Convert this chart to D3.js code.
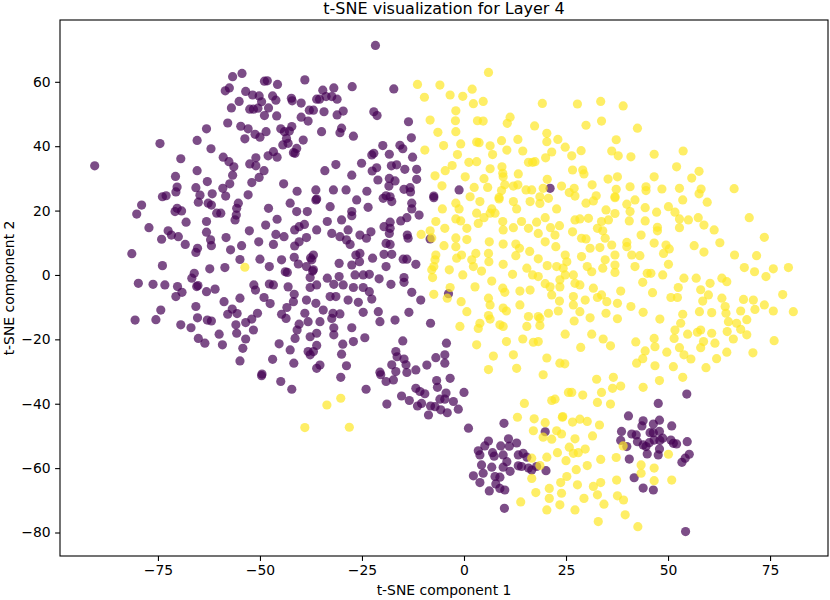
<!DOCTYPE html>
<html>
<head>
<meta charset="utf-8">
<script src="https://cdn.jsdelivr.net/npm/d3@7"></script>
<style>
  body { margin: 0; background: #fff; }
  text { font-family: "DejaVu Sans", sans-serif; fill: #000; }
</style>
</head>
<body>
<div id="chart"></div>
<script>
// ---- data: t-SNE coordinates, one list per class ----
var classNames = ["class 0", "class 1"];

var class0Points = [
  [-90.5,33.9],[-74.5,40.8],[-69.4,36.1],[-70.7,30.6],[-70.3,27.3],[-70.6,25.8],[-73.9,24.3],[-73,24.6],
  [-65.4,32.4],[-65.4,41.8],[-63.1,45.4],[-62,39.2],[-62.9,29],[-65.7,27.1],[-64.7,24.8],[-61.7,25.2],
  [-59,36.6],[-57.6,35.2],[-56.4,33.6],[-56.7,31],[-57.4,28.3],[-59.1,26.9],[-58.4,24.5],[-57.9,47.2],
  [-57,51.9],[-58.5,57.2],[-57.5,58.1],[-56.7,61.6],[-54.4,62.6],[-55.1,53.9],[-53.5,57],[-51.8,55.9],
  [-50.2,55.6],[-49.6,53.8],[-48.9,60.2],[-48.2,60.3],[-45.7,59.2],[-46.9,55.6],[-46.1,54.3],[-52.5,51.5],
  [-51.6,51.5],[-50.5,51.8],[-47.9,51.9],[-48.9,49.5],[-45.9,49.4],[-54.7,46.2],[-52.9,45.4],[-53.7,42.3],
  [-51.2,43.7],[-50,42.8],[-48.5,44.5],[-44.9,45.4],[-44,44.5],[-42.8,44.7],[-42.2,46.1],[-43.5,42.4],
  [-44.4,40.4],[-43.1,40.9],[-39.4,41.9],[-41,39.3],[-41.8,38],[-41.4,37.8],[-46.7,38.3],[-48,37],
  [-45.8,36.6],[-51,36.4],[-52.5,34.5],[-51,33.9],[-49,32.4],[-50.2,30.3],[-52,28.7],[-52.9,24.9],
  [-44.2,28.3],[-40.9,26],[-42.3,54.9],[-42.1,54.1],[-39.9,53.4],[-39,60.6],[-39.9,49],[-38.2,47.8],
  [-37.9,51.2],[-36.9,51.2],[-36.1,54.6],[-35.4,54.6],[-36.3,26.4],
  [-27.4,58.5],[-17.2,57.8],[-34.6,57.4],[-31.9,58.1],[-33.8,55.4],[-32.4,55.4],[-31.1,54.6],[-34.3,50.7],
  [-31.1,49.7],[-29.6,50.9],[-22.1,50.7],[-21.3,49.5],[-13.6,47.6],[-34.9,44.5],[-30.4,44.2],[-30,45.6],
  [-27.1,43.1],[-12.9,42.6],[-19.9,40.2],[-15.7,40.3],[-15,39.2],[-22.6,37.3],[-22.1,37.8],[-18.3,37.5],
  [-12.6,36.6],[-31.4,34.3],[-25.1,34.7],[-21.4,33.3],[-22.5,32.3],[-17.8,33.9],[-16.5,34.2],[-14.5,32.8],
  [-11.6,32.8],[-34.1,32.4],[-27.5,31],[-21.1,29.5],[-18.3,30],[-16.9,29.2],[-11.6,29.7],[-18.4,27.6],
  [-14.7,26.6],[-13.2,27.1],[-13.1,25.8],[-32,26.4],[-28.9,26.4],[-23.8,26],[-19.1,24.6],[-18.1,24.3],
  [-1.2,26.4],[-7.4,24.5],[-21.7,71.3],[21.1,26.9],
  [-79,21.7],[-80.2,18.9],[-77.2,14.7],[-74.1,11.1],[-72.5,13.7],[-71.7,12.4],[-70,11.9],[-68.3,9.5],
  [-81.4,6.6],[-73.9,2.9],[-79.8,-2.6],[-76.2,-2.9],[-73.3,-3.1],[-70.2,-3.6],[-69.1,-5.4],[-70.6,-6.7],
  [-80.6,-14],[-75.5,-13.9],[-74.3,-10.9],[-70.8,19.7],[-70.3,20.7],[-69.2,19.9],[-68.1,16.4],[-65.1,22.6],
  [-63.1,16.6],[-62.7,22.3],[-61.9,21.7],[-60.6,19.2],[-59.6,19.2],[-63.1,13.3],[-62.1,10.9],[-61.9,9.1],
  [-65.3,8.3],[-65.7,7],[-58.3,11.6],[-57.2,7.8],[-54.5,9.1],[-54.9,4.8],[-50,4.9],[-47.7,2.6],
  [-44.7,4.7],[-43.8,1],[-43.3,0.8],[-41.6,5.5],[-40.6,3.4],[-38.6,2.6],[-37.6,5.3],[-37.7,-0.8],
  [-37.1,1.2],[-37.7,-3.9],[-58.6,2.3],[-62.3,1.9],[-66.1,0.5],[-66.7,-1],[-65.5,-3.6],[-65.2,-3.3],
  [-63.1,-5.2],[-61,-4.4],[-58.8,-8.3],[-54.9,-7.2],[-51.5,-3.1],[-51.1,-4.7],[-47.7,-2.8],[-46.7,-3.1],
  [-49,-7],[-47.5,-8.9],[-43.1,-3.7],[-41.6,-6],[-41.8,-8.3],[-38.6,-7.8],[-43.4,-10.1],[-44.7,-12.2],
  [-43.6,-13.5],[-39,-11.9],[-40.4,-15.3],[-40.9,-17.1],[-41.4,-19.7],[-38.2,-14.5],[-37.7,-19.2],[-45.3,-21.4],
  [-42.6,-23.3],[-46.9,-26.2],[-41.7,-27.4],[-38.2,-23.8],[-37.7,-24.8],[-49.5,-30.8],[-54.9,-26.7],[-54.2,-22.8],
  [-53.5,-19.9],[-51.6,-17.1],[-52,-13.7],[-53.5,-14.8],[-50.6,-11.9],[-55.9,-15.5],[-55.7,-18.1],[-57.9,-12.2],
  [-56.8,-10.6],[-55.6,-12],[-60,-18.4],[-59.2,-21.7],[-65.7,-9.8],[-65.3,-13.3],[-62.9,-14],[-61.9,-14.3],
  [-69.4,-15.5],[-66.9,-16.4],[-65.1,-19.7],[-63.5,-21.2],[-55.3,22.3],[-55.7,20.7],[-56.1,17.1],[-55.8,18.6],
  [-52.6,13.7],[-50.3,10.3],[-48.6,15.5],[-45.8,17.3],[-47.9,20.7],[-46.1,12.6],[-46.7,9.5],[-44.1,11.9],
  [-42.6,22.3],[-41,19.7],[-38.4,19.7],[-41.5,14],[-40.4,15],[-39.1,15.7],[-40.4,10.3],[-41.5,9],
  [-38.6,11.6],[-36.1,23.6],
  [-36.3,23.3],[-32.8,21.2],[-26.3,23.3],[-23.5,21],[-27.5,19.7],[-27.5,18.4],[-19.8,23.8],[-17.7,22.8],
  [-12.8,22.3],[-12.8,20.5],[-7.4,24],[-33.5,16.6],[-30,17.1],[-36.1,14],[-32.4,12.9],[-30.4,11.9],
  [-28.4,14],[-28.8,10.9],[-27.9,9.5],[-25.5,12.4],[-23.9,11.4],[-22.8,13.4],[-19.6,15],[-18.1,16.4],
  [-18.1,14.5],[-18.3,12.9],[-15.5,16.8],[-14,17.8],[-11,18.6],[-13.9,12.4],[-13.7,11.4],[-19.1,9.8],
  [-18.1,9.5],[-8.3,11.2],[-26.5,6.2],[-25.5,6.7],[-25.6,4.1],[-36.9,6.2],[-37.3,4.7],[-30.6,3.6],
  [-27.5,3.1],[-26.7,0],[-24.7,0],[-22.4,5.2],[-19.6,6.4],[-17.7,6.4],[-14.9,4.9],[-14,4.9],
  [-11.8,3.3],[-19.1,2.6],[-23.2,0.2],[-20.8,-1.2],[-14.7,-0.8],[-14.7,-2.3],[-17.9,-2.9],[-36.9,1.6],
  [-36.1,-3.1],[-33.5,-1],[-30.6,-0.5],[-31.9,-2.9],[-29.6,-3.1],[-27.1,-3.9],[-24.7,-3.9],[-23.2,-5.2],
  [-22.6,-7.5],[-32.8,-6.7],[-31.4,-6.7],[-28.4,-7.8],[-25.9,-8.5],[-36.3,-8.8],[-12.8,-5.4],[-10.6,-7.8],
  [-3.8,-5.8],[-34.5,-10.9],[-32.1,-11.9],[-30.4,-12.1],[-32.4,-13.5],[-24.7,-11.6],[-21,-11.4],[-20.6,-14.5],
  [-16.9,-14],[-13.5,-11.6],[-35.3,-14.5],[-36.1,-18.1],[-31.9,-16.4],[-31.9,-18.6],[-27.5,-16.4],[-27.1,-20.7],
  [-24.3,-19.5],[-29.7,-21.5],[-36.1,-21.9],[-36.9,-23.8],[-30,-24.6],[-35.3,-28],[-36.1,-29],[-28.8,-28.2],
  [-8.2,-15],[-15,-20.5],[-4.3,-21.2],[-16.7,-23.8],[-16.4,-25.4],[-14.7,-26.1],[-17.7,-27.9],[-14.2,-27.9],
  [-6.9,-25.7],[-4.7,-24.8],[-4.7,-27.4],[-9.1,-28],[-11.8,-29.5],[-20.6,-30.2],[-16.7,-30],
  [-49.6,-31.3],[-44.9,-33.1],[-42.2,-35.5],[-30.2,-31.8],[-24,-35.5],[-20.4,-31],[-19.1,-33.1],[-17.3,-32.6],
  [-14,-30.3],[-18.9,-40.1],[-15.3,-37.6],[-13.4,-39],[-11.8,-35.2],[-10.8,-36.2],[-9.6,-36.9],[-11.4,-40.7],
  [-10.4,-39.9],[-8.2,-40.7],[-7.1,-40.9],[-5.7,-41.9],[-4.1,-42.8],[-8.7,-43.5],[-6.7,-32.8],[-6.5,-34.9],
  [-3.4,-32.1],[-5.9,-38.6],[-4.4,-36.7],[-4.7,-38.6],[-2.6,-39.3],[-1.4,-41.7],[0,-36.5],[1.1,-47.6],
  [9.8,-46.1],[6,-51.6],[5.1,-53.1],[3.5,-54.6],[3.9,-55.9],[7,-55.2],[7.4,-56.3],[9,-53.1],
  [9.6,-55.9],[10.9,-50.9],[11.1,-53.2],[12.9,-52.2],[10.5,-58],[11.3,-61],[9.6,-59.7],[6.8,-59.7],
  [4.3,-59],[4.7,-61.6],[2.3,-62.4],[3.9,-64.5],[7.6,-62.6],[8.8,-62.8],[7.8,-64.9],[8.8,-66.3],
  [10,-66.8],[6.2,-67.1],[13.3,-55.9],[14.5,-55.4],[15.4,-56.6],[13.3,-59.3],[14.1,-59.5],[15.8,-60],
  [16.6,-60.6],[17.8,-59.5],[19.9,-48.7],[20.1,-60.8],[9.9,-72.5],
  [54.6,-37],[47.6,-39.9],[40.3,-43.8],[43.9,-45.3],[43.6,-46.9],[46.4,-46.3],[47.9,-45.1],[50.9,-46.9],
  [38.6,-48.6],[41.1,-49.4],[42.2,-49.7],[45.6,-49],[46.4,-49],[47.9,-48.6],[38.4,-51.4],[42.5,-51.8],
  [43.9,-52.8],[44.6,-53.3],[45.4,-52.1],[46.6,-51.3],[48,-51.4],[48.7,-50.7],[50.7,-51.3],[51.3,-52.3],
  [52.1,-52.5],[54.7,-51.8],[39.9,-53.3],[44.9,-55.6],[47.6,-55.9],[47.9,-54.1],[40.5,-57.2],[53.4,-58.2],
  [54.2,-56.9],[55.2,-55.7],[41.7,-63],[43.9,-66.2],[46.4,-66.8],[54.3,-79.7]
];

var class1Points = [
  [6,62.9],[-11.4,59.2],[-5.9,59],[-9.7,55.2],[-3.4,55.9],[-0.3,55.5],[2,57.7],[2.3,53.2],
  [4.7,53.9],[19.2,53.3],[-2,51],[-8.3,48.1],[-2.1,47.9],[3.3,47.9],[4.7,47.8],[10.6,47.1],
  [11.3,49],[17.3,46.3],[-6.4,44.3],[-2,44.5],[20.3,44],[-9.6,38.8],[-5,40.2],[-0.8,40.7],
  [3.1,41.3],[3.7,41.1],[6.4,40.1],[7,37.4],[9.2,41.7],[10.5,38.8],[13.2,42.1],[14.4,38.5],
  [20.3,41.4],[23,42.1],[21.5,38.2],[20,36.4],[24.8,39.7],[-1.6,37.4],[-2.9,34],[1.2,35],
  [3.1,35.2],[6.4,33],[9.3,33.6],[9.5,31.6],[9.6,30.5],[13.3,31.4],[15.8,35],[16.8,35],
  [17.4,35.2],[-7.1,30.8],[-4.6,32.4],[-5.4,27.7],[0.3,30.5],[4.9,29.9],[2.5,27.2],[5.8,27.2],
  [10,28],[12.1,27.6],[13.2,28],[9.2,26.2],[15.2,26.4],[16.6,26.4],[20.4,29.7],[19.4,26.9],
  [23.9,27.6],[8.6,24.1],[18.6,24.3],
  [27.8,53.1],[33.5,53.9],[39,52.5],[29.9,46.5],[33.7,47.8],[42.5,45.6],[37.3,42],[26.4,37],
  [28.7,38.6],[36.2,38.5],[37.8,37],[40.9,36.7],[46.6,37.5],[53.7,38.5],[52.1,33.6],[26.6,32.6],
  [29.1,32.6],[29.4,31.4],[35.3,29.8],[37.6,30.5],[46.6,30.5],[55.8,30.1],[57.6,32.2],[27,26.9],
  [25.8,25.6],[27.2,24.5],[31.4,28],[32.4,24.6],[37.3,26.6],[37,24.3],[40.7,27.4],[44.6,27.4],
  [44.6,26.2],[48.5,26.7],[52.8,26.9],[58.1,26.7],[57.6,25.2],[66.2,26.8],
  [-2,22.3],[1.5,24.3],[3.9,22.8],[6.8,20.5],[6.4,19.2],[7.6,19.2],[8.6,23.6],[12.1,22.8],
  [12.9,20.5],[16.2,22.8],[18.6,22.2],[20.7,23.8],[22.7,20.5],[-5.3,20.5],[-1.2,20.5],[-6.9,16.6],
  [-4.7,14.5],[-2,17.4],[-0.8,16.8],[0.7,14.5],[3.1,19.2],[4.9,17.8],[3.5,16],[9.5,16.6],
  [9.6,14],[12.1,14.7],[14.1,16.6],[15.8,14.5],[17.8,16.4],[19.9,17.8],[21.2,14.7],[23.4,15.3],
  [18.2,12.9],[-10.5,12.6],[-8.3,13.7],[-7.9,11.5],[-4.9,9.1],[-2,11.5],[-2,8.8],[0.7,11],
  [-0.6,6.2],[-1.8,5.2],[-6.9,6.2],[-7.1,4.7],[-7.4,2.6],[-7.9,1.6],[-7.7,-0.8],[-3.6,1.6],
  [-0.3,0],[1.9,4.7],[2.9,6.7],[2.3,2.6],[4.3,1.2],[6,6.7],[6.2,10.3],[6.1,4.1],
  [9.6,9.6],[9.6,3.3],[12.7,9.6],[12.7,6],[13.6,8.3],[16.1,7.3],[18.2,5],[19.9,10.3],
  [22.5,8.8],[22.3,12.4],[11.9,0.2],[15.4,2.1],[16.8,0],[18.2,-0.5],[20.4,2.9],[22.7,2.6],
  [24.3,2.1],[-3.4,-3.9],[2.7,-3.7],[6.8,-1.9],[9.5,-4.1],[10,-5.4],[13.7,-5],[16.2,-4.7],
  [19.9,-2.7],[21.1,-3.7],[21.5,-6.2],[23.5,-1.5],[23.5,-3.7],[-7.4,-6],[-4.1,-7.2],[-0.7,-8.3],
  [0.7,-11.4],[6,-7.2],[6.4,-9.3],[9.6,-10.3],[10.4,-11.2],[13.7,-9.3],[15.8,-12.9],[18.2,-12.9],
  [20.7,-11.9],[23.1,-11.2],[23.4,-8.1],[-1,-16],[3.5,-16.6],[3.9,-15],[6.4,-13.7],[6,-12.6],
  [8.8,-15.5],[9.6,-16],[15.4,-16],[18.6,-15.7],[18.6,-13.5],[3.1,-21.7],[10.4,-20.7],[14.4,-19.9],
  [17,-20.9],[18.2,-20.7],[7.2,-25.2],[12.1,-24.8],[20.3,-25.8],[23.5,-27.4],[24.7,-27.6],[6,-29.4],
  [12.9,-29],[19.4,-31],
  [29.9,22.3],[31.7,23],[37,24],[39.9,22],[41.9,23.3],[44.4,20.9],[47.2,19.5],[50.1,21.2],
  [51.7,19.5],[53.6,23.3],[57.4,17.8],[59.6,22.6],[69.9,17.8],[27.2,17.1],[28.4,17.4],[30.5,17.6],
  [33.7,16.6],[35.4,17.1],[37,19.1],[34.8,20.2],[40.7,19.7],[40.5,16.8],[44.4,16.8],[52.8,17.4],
  [55,17.1],[52.8,14.7],[58.8,15.5],[61.3,14],[26.6,13.4],[32.7,14.5],[34,13.7],[28.8,11.4],
  [29.9,11.2],[34.6,11.4],[36.2,9.3],[39.9,10.1],[39.9,8.8],[43.4,12.4],[47.4,14.8],[47.4,13.7],
  [46.6,9.9],[49.5,9.3],[50.3,8.1],[48.9,6.7],[56.4,9.1],[58.8,7.1],[62.7,10],[66.3,6.2],
  [71.7,6],[73.6,11.7],[24.8,6.2],[25.2,4.1],[28.8,5.7],[30.9,8.3],[33.3,8.5],[37,6.2],
  [41.1,6.2],[43.1,6],[34.6,4.7],[37,3.1],[41.9,2.6],[50.1,3.3],[30.2,2.6],[31.3,1],
  [34,2.1],[37,0.8],[44.9,0.5],[43.8,-2.3],[45.8,0.5],[48.7,0],[53.9,-1],[56.9,-1],
  [60.3,-2.6],[63.2,-1],[64.4,-2.1],[68.7,2.3],[71.2,1],[74,-0.5],[75.8,1.9],[79.5,2.3],
  [24.8,0],[26.8,0],[27.2,-2.6],[28.4,-3.1],[26.8,-6.7],[26.8,-9.3],[28.4,-11.4],[27,-14.3],
  [24.8,-18.4],[31.7,-4.1],[32.7,-7],[33.7,-6.2],[29.7,-7.8],[35,-8.3],[37.6,-8.8],[38.4,-5],
  [40.9,-9.8],[43.9,-11.6],[46.2,-5.5],[50.7,-7],[52.3,-7],[52.5,-3.9],[58,-4.6],[59.9,-6.2],
  [58.5,-8.1],[63.2,-7.2],[64,-9.8],[68.5,-7.6],[70.9,-7.8],[71.3,-10.7],[67.8,-11.2],[64.2,-11.9],
  [60.7,-11.7],[57.7,-11.4],[53.6,-12.2],[53.1,-15],[48,-13.7],[73.6,-9.3],[75.8,-11.2],[78.1,-6.1],
  [80.7,-11.4],[30.9,-13.3],[34.8,-11.9],[37.6,-13.6],[31.3,-18.4],[34.1,-19.9],[35.9,-22],[28.6,-22.5],
  [42.1,-20.8],[46.6,-19.7],[46.8,-22.3],[44.4,-23.6],[43.8,-26],[42.3,-27.4],[49.7,-24],[51.7,-17.1],
  [51.5,-19.7],[52.8,-22.6],[54.8,-18.4],[53.9,-24.8],[55.6,-26.1],[57.2,-17.8],[58,-17.1],[58.7,-20.7],
  [58,-22.6],[60.7,-18.1],[61.5,-21.2],[61.9,-26],[64.4,-24],[64.5,-17.6],[66,-19.9],[66.8,-15],
  [64.8,-14.5],[67.8,-16.9],[69.3,-18.6],[69.3,-13.9],[76,-20.4],[70.8,-24.2],[46.8,-28.2],[51.3,-28.5],
  [59.3,-28.8],
  [-53.7,2.4],[-39,-47.4],[-33.6,-40.4],[-30.2,-38.3],[-28.1,-47.3],[14.8,-39.9],[21.5,-39],[22.3,-38.6],
  [25.6,-36.5],[13.1,-44.2],[17.2,-44.7],[19.9,-45.9],[17,-48.4],[19.4,-50.4],[21.5,-51],[22.7,-48.4],
  [23.9,-49.4],[24.1,-44.2],[22.9,-55.2],[20.3,-56.6],[25,-57.7],[16.6,-56.9],[18.6,-59.2],[16.6,-63.2],
  [17.6,-67.6],[13.9,-70.5],[20.9,-66.3],[20.9,-69.4],[23.7,-64.5],[25.2,-62.6],[23.9,-67.8],[23.5,-71.4],
  [20.3,-73],
  [32.5,-32.4],[36.6,-31.8],[33.7,-36.5],[36.4,-35.2],[38.4,-34.5],[43.9,-34.9],[47.9,-32.8],[53.6,-31.8],
  [26.4,-36.5],[29.1,-37.3],[32.7,-39.6],[35.9,-40.1],[24.2,-44],[26.6,-45.7],[28.4,-44.8],[30.2,-45.5],
  [33.2,-46.6],[27.2,-50.9],[31.5,-50],[25.8,-53.5],[26.8,-55.4],[28,-55.2],[29.7,-54.1],[33.5,-57.3],
  [37.3,-56.7],[27.5,-60.5],[30.2,-59.2],[27.8,-65.2],[29.4,-69.4],[32.7,-68.3],[31.7,-65.7],[33.5,-64.5],
  [34.3,-71.2],[37.6,-68.6],[39.1,-69.9],[39.5,-74.5],[37.4,-63.7],[39,-53.1],[43.4,-59],[43.4,-61.6],
  [46.6,-60],[46.6,-63.9],[50.9,-63.7],[50.1,-55.7],[27.2,-73],[32.9,-76.6],[42.6,-78.2]
];

var xTicks = [-75, -50, -25, 0, 25, 50, 75];
var yTicks = [-80, -60, -40, -20, 0, 20, 40, 60];
var xDomain = [-99, 89.2];
var yDomain = [-87.3, 79.2];

var titleText = "t-SNE visualization for Layer 4";
var xLabelText = "t-SNE component 1";
var yLabelText = "t-SNE component 2";

// ---- layout ----
var width = 830, height = 600;
var margin = { top: 20, right: 2, bottom: 44, left: 60 };
var plotW = width - margin.left - margin.right;
var plotH = height - margin.top - margin.bottom;

var svg = d3.select("#chart").append("svg")
    .attr("width", width)
    .attr("height", height);

var x = d3.scaleLinear().domain(xDomain).range([margin.left, margin.left + plotW]);
var y = d3.scaleLinear().domain(yDomain).range([margin.top + plotH, margin.top]);

var color = d3.scaleOrdinal().domain([0, 1]).range(["#440154", "#fde725"]);

// points: class 0 first, class 1 on top
var allPoints = [];
class0Points.forEach(function (p) { allPoints.push({ x: p[0], y: p[1], c: 0 }); });
class1Points.forEach(function (p) { allPoints.push({ x: p[0], y: p[1], c: 1 }); });

svg.append("g")
    .selectAll("circle")
    .data(allPoints)
    .enter()
    .append("circle")
    .attr("cx", function (d) { return x(d.x); })
    .attr("cy", function (d) { return y(d.y); })
    .attr("r", 4.6)
    .style("fill", function (d) { return color(d.c); })
    .style("fill-opacity", 0.7);

// axes
var fmt = function (d) { return d3.format("d")(d); };

var xAxis = svg.append("g")
    .attr("transform", "translate(0," + (margin.top + plotH) + ")")
    .call(d3.axisBottom(x).tickValues(xTicks).tickFormat(fmt).tickSize(4.9).tickPadding(4.5));

var yAxis = svg.append("g")
    .attr("transform", "translate(" + margin.left + ",0)")
    .call(d3.axisLeft(y).tickValues(yTicks).tickFormat(fmt).tickSize(4.9).tickPadding(4.5));

[xAxis, yAxis].forEach(function (g) {
    g.select(".domain").remove();
    g.selectAll(".tick line").attr("stroke", "#000").attr("stroke-width", 1.1);
    g.selectAll(".tick text")
        .style("font-family", "DejaVu Sans")
        .style("font-size", "13.9px")
        .attr("fill", "#000");
});

// frame
svg.append("rect")
    .attr("x", margin.left)
    .attr("y", margin.top)
    .attr("width", plotW)
    .attr("height", plotH)
    .attr("fill", "none")
    .attr("stroke", "#000")
    .attr("stroke-width", 1.1);

// title and labels
svg.append("text")
    .attr("x", margin.left + plotW / 2)
    .attr("y", 14)
    .attr("text-anchor", "middle")
    .style("font-size", "16px")
    .text(titleText);

svg.append("text")
    .attr("x", margin.left + plotW / 2)
    .attr("y", 595)
    .attr("text-anchor", "middle")
    .style("font-size", "13.9px")
    .text(xLabelText);

svg.append("text")
    .attr("transform", "translate(14," + (margin.top + plotH / 2) + ") rotate(-90)")
    .attr("text-anchor", "middle")
    .style("font-size", "13.9px")
    .text(yLabelText);
</script>
</body>
</html>
